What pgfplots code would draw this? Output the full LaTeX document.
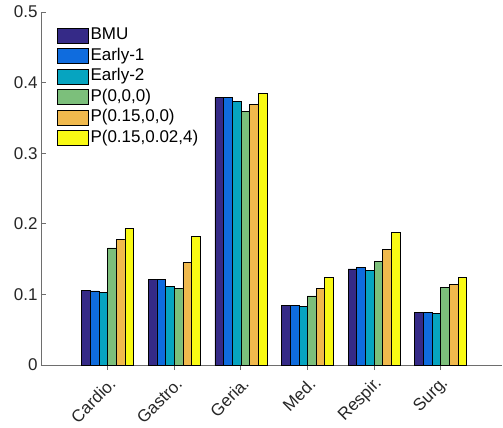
\documentclass[border=0pt]{standalone}
\usepackage{pgfplots}
\pgfplotsset{compat=1.18}
\usepackage{fontspec}
\setmainfont{Liberation Sans}
\definecolor{c1}{RGB}{53,42,135}
\definecolor{c2}{RGB}{15,108,222}
\definecolor{c3}{RGB}{6,164,192}
\definecolor{c4}{RGB}{124,191,123}
\definecolor{c5}{RGB}{240,185,77}
\definecolor{c6}{RGB}{249,250,20}
\definecolor{axgray}{RGB}{110,110,110}
\begin{document}
\begin{tikzpicture}
\useasboundingbox (-41pt,-63pt) rectangle (462pt,365pt);
\begin{axis}[
  at={(0,0)}, anchor=south west,
  scale only axis, width=461pt, height=353pt,
  xmin=0, xmax=6.92, ymin=0, ymax=0.5,
  axis lines*=left,
  axis line style={axgray, line width=0.8pt},
  tick style={axgray, line width=0.8pt},
  tickpos=left, tick align=inside,
  major tick length=5pt,
  ytick={0,0.1,0.2,0.3,0.4,0.5},
  yticklabels={0,0.1,0.2,0.3,0.4,0.5},
  xtick={1,2,3,4,5,6},
  xticklabels={Cardio.,Gastro.,Geria.,Med.,Respir.,Surg.},
  x tick label style={xshift=7.4pt, yshift=-8.5pt, rotate=45, anchor=east},
  ticklabel style={font=\fontsize{17}{19}\selectfont, text=black!85},
  /pgf/number format/assume math mode=true,
  ybar=0pt, bar width=0.13,
  every axis plot/.append style={draw=black, line width=0.6pt},
  legend style={draw=none, fill=none, at={(0.035,0.958)}, anchor=north west,
    font=\fontsize{17}{19}\selectfont, row sep=3pt, inner sep=0pt,
    nodes={inner sep=1.5pt, text height=11pt, text depth=3.5pt}},
  legend cell align=left,
  legend image code/.code={\draw[#1, line width=0.7pt] (0pt,-7.5pt) rectangle (31pt,7.5pt);},
]
\addplot[fill=c1] coordinates {(1,0.106) (2,0.121) (3,0.379) (4,0.0845) (5,0.136) (6,0.0746)};
\addplot[fill=c2] coordinates {(1,0.105) (2,0.121) (3,0.379) (4,0.084) (5,0.138) (6,0.074)};
\addplot[fill=c3] coordinates {(1,0.103) (2,0.111) (3,0.373) (4,0.0826) (5,0.134) (6,0.073)};
\addplot[fill=c4] coordinates {(1,0.166) (2,0.109) (3,0.359) (4,0.098) (5,0.147) (6,0.1095)};
\addplot[fill=c5] coordinates {(1,0.178) (2,0.145) (3,0.369) (4,0.109) (5,0.164) (6,0.114)};
\addplot[fill=c6] coordinates {(1,0.193) (2,0.182) (3,0.385) (4,0.124) (5,0.188) (6,0.124)};
\legend{BMU,Early-1,Early-2,{P(0,0,0)},{P(0.15,0,0)},{P(0.15,0.02,4)}}
\end{axis}
\end{tikzpicture}
\end{document}
